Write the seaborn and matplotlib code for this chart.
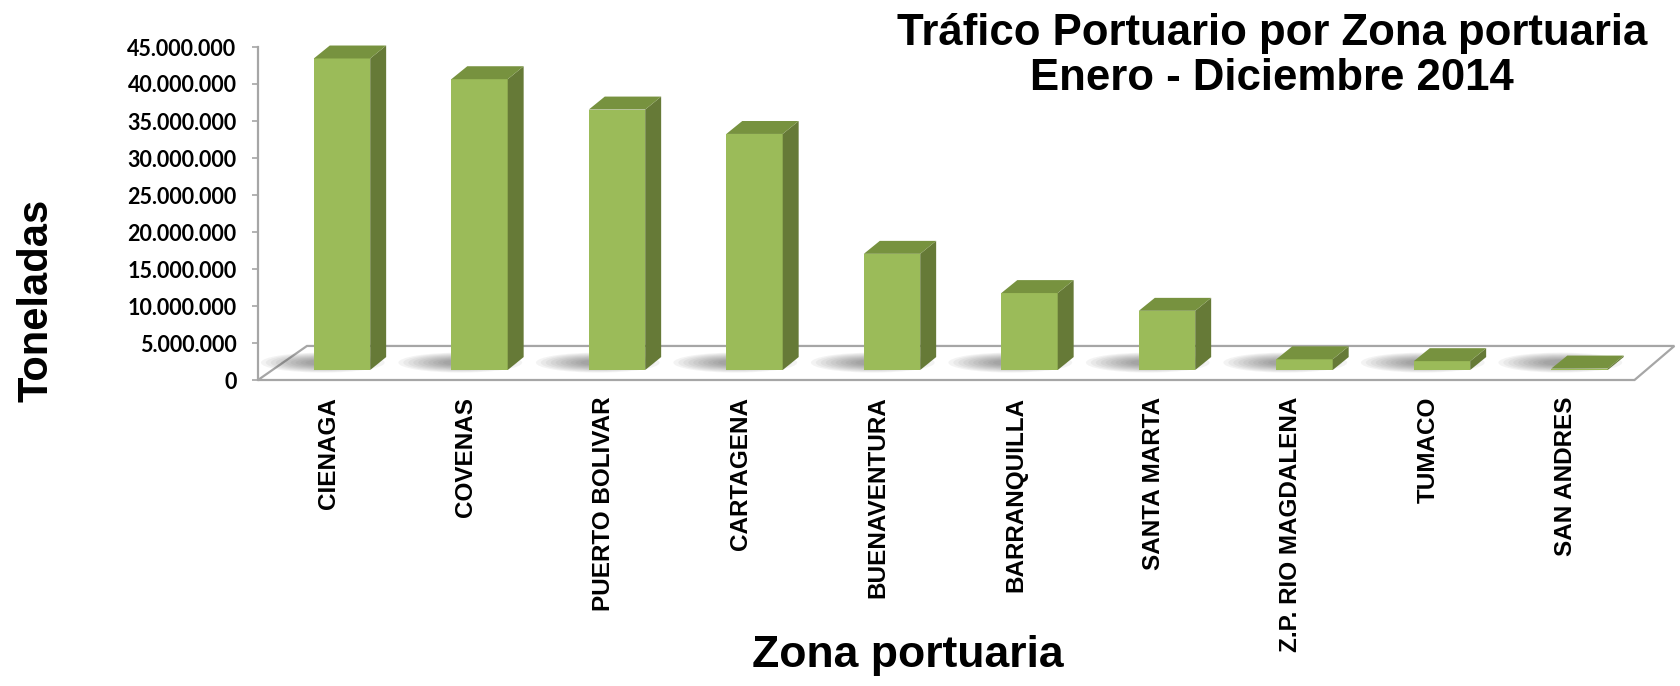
import matplotlib
matplotlib.use("Agg")
import matplotlib.pyplot as plt
import matplotlib.transforms as mtransforms
from matplotlib.patches import Polygon, Ellipse
from matplotlib.ticker import FuncFormatter
import pandas as pd
import seaborn as sns

# datos (toneladas)
zonas = ["CIENAGA", "COVENAS", "PUERTO BOLIVAR", "CARTAGENA", "BUENAVENTURA",
         "BARRANQUILLA", "SANTA MARTA", "Z.P. RIO MAGDALENA", "TUMACO", "SAN ANDRES"]
toneladas = [42100000, 39300000, 35200000, 31900000, 15700000,
             10400000, 8000000, 1450000, 1200000, 200000]
y_ticks = list(range(0, 45000001, 5000000))

titulo = "Tráfico Portuario por Zona portuaria\nEnero - Diciembre 2014"

# colores estilo Excel
c_front = "#9BBB59"
c_side = "#667A37"
c_top = "#77923F"
c_floor = "#A6A6A6"

sns.set_style("white")
plt.rcParams["font.family"] = ["Liberation Sans", "DejaVu Sans"]
plt.rcParams["text.color"] = "black"
plt.rcParams["xtick.color"] = "black"
plt.rcParams["ytick.color"] = "black"

df = pd.DataFrame({"zona": zonas, "toneladas": toneladas})

fig = plt.figure(figsize=(16.81, 6.86), dpi=100)
ax = fig.add_axes([258 / 1681, 1 - 380 / 686, (1681 - 258) / 1681, (380 - 47) / 686])

sns.barplot(data=df, x="zona", y="toneladas", color=c_front, width=0.41,
            saturation=1, ax=ax, zorder=5)
bars = list(ax.patches)

ax.set_xlim(-0.611, 9.738)
ax.set_ylim(0, 45000000)

# profundidad 3D
base = 1350000
dx = 0.116
dy = 1750000

# piso
floor_h = 4600000
floor = Polygon([(-0.611, 0), (9.40, 0), (9.69, floor_h), (-0.255, floor_h)],
                closed=True, facecolor="white", edgecolor=c_floor, lw=1.6,
                zorder=1, clip_on=False)
ax.add_patch(floor)

for p in bars:
    x0 = p.get_x()
    w = p.get_width()
    h = p.get_height()
    p.set_y(base)
    p.set_edgecolor("none")
    p.set_clip_on(False)
    # sombra
    cx = x0 + w / 2 - 0.14
    for i in range(10):
        s = 1 - i * 0.08
        ax.add_patch(Ellipse((cx, base + 1000000), 0.9 * s, 2700000 * s,
                             facecolor="#404040", alpha=0.06, edgecolor="none",
                             zorder=2, clip_on=False))
    top = base + h
    side = Polygon([(x0 + w, base), (x0 + w + dx, base + dy),
                    (x0 + w + dx, top + dy), (x0 + w, top)], closed=True,
                   facecolor=c_side, edgecolor="none", zorder=5, clip_on=False)
    cap = Polygon([(x0, top), (x0 + w, top), (x0 + w + dx, top + dy),
                   (x0 + dx, top + dy)], closed=True,
                  facecolor=c_top, edgecolor="none", zorder=6, clip_on=False)
    ax.add_patch(side)
    ax.add_patch(cap)

# ejes
for s in ["top", "right", "bottom"]:
    ax.spines[s].set_visible(False)
ax.spines["left"].set_color(c_floor)
ax.spines["left"].set_linewidth(1.6)

ax.set_yticks(y_ticks)
ax.yaxis.set_major_formatter(FuncFormatter(lambda v, pos: f"{int(v):,}".replace(",", ".")))
ax.tick_params(axis="y", which="major", left=True, length=4.5, width=1.2,
               color=c_floor, labelcolor="black", pad=11, labelsize=15.5)
for lab in ax.get_yticklabels():
    lab.set_fontfamily(["Lato", "DejaVu Sans"])
    lab.set_fontweight("bold")

ax.tick_params(axis="x", length=0, pad=12, labelsize=17.5, labelcolor="black")
shift = mtransforms.ScaledTranslation(-14 / 100, 0, fig.dpi_scale_trans)
for lab in ax.get_xticklabels():
    lab.set_rotation(90)
    lab.set_fontweight("bold")
    lab.set_ha("center")
    lab.set_va("top")
    lab.set_transform(lab.get_transform() + shift)

ax.set_xlabel("")
ax.set_ylabel("")

fig.text(0.022, 1 - 300 / 686, "Toneladas", rotation=90, fontsize=30,
         fontweight="bold", ha="center", va="center", color="black")
fig.text(908 / 1681, 1 - 655 / 686, "Zona portuaria", fontsize=32,
         fontweight="bold", ha="center", va="center", color="black")
fig.text(1272 / 1681, 1 - 56 / 686, titulo, fontsize=31.5, fontweight="bold",
         ha="center", va="center", linespacing=1.15, color="black")

fig.savefig("out.png", dpi=100)
